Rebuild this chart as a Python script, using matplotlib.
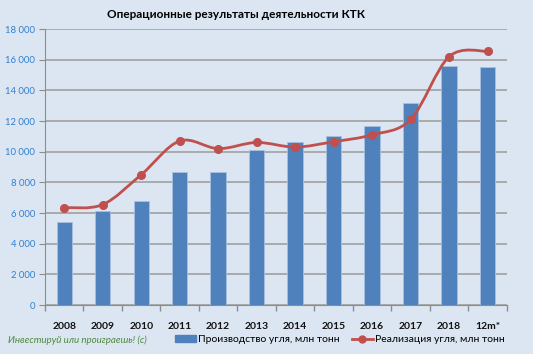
import numpy as np
import matplotlib.pyplot as plt
from matplotlib.path import Path
from matplotlib.patches import PathPatch
from matplotlib.lines import Line2D
from matplotlib.patches import Patch

years = ['2008', '2009', '2010', '2011', '2012', '2013', '2014', '2015',
         '2016', '2017', '2018', '12m*']
production = [5400, 6100, 6800, 8700, 8700, 10100, 10600, 11000, 11700,
              13200, 15600, 15500]
sales = [6350, 6550, 8500, 10700, 10200, 10600, 10300, 10650, 11100,
         12100, 16200, 16550]

bg = '#dce6f2'
bar_color = '#4f81bd'
line_color = '#c0504d'

plt.rcParams['font.family'] = ['Lato', 'DejaVu Sans']

fig = plt.figure(figsize=(5.33, 3.54), dpi=100, facecolor=bg)
ax = fig.add_axes([0.0844, 0.1384, 0.8666, 0.7796], facecolor=bg)

x = np.arange(len(years))
ax.bar(x, production, width=0.4, color=bar_color, edgecolor='#a9c1e0',
       linewidth=0.6, zorder=2)


# smooth line like excel: catmull-rom turned into bezier segments
def smooth_path(xs, ys):
    pts = np.column_stack([xs, ys]).astype(float)
    verts = [pts[0]]
    codes = [Path.MOVETO]
    n = len(pts)
    for i in range(n - 1):
        p0 = pts[i - 1] if i > 0 else pts[i]
        p1 = pts[i]
        p2 = pts[i + 1]
        p3 = pts[i + 2] if i + 2 < n else pts[i + 1]
        c1 = p1 + (p2 - p0) / 6.0
        c2 = p2 - (p3 - p1) / 6.0
        verts += [c1, c2, p2]
        codes += [Path.CURVE4] * 3
    return Path(verts, codes)


ax.add_patch(PathPatch(smooth_path(x, sales), facecolor='none',
                       edgecolor=line_color, linewidth=2, zorder=3))
ax.plot(x, sales, 'o', color=line_color, markersize=5.5, zorder=4)

ax.set_xlim(-0.5, len(years) - 0.5)
ax.set_ylim(0, 18000)
ax.set_yticks(range(0, 18001, 2000))
ax.set_yticklabels(['0' if v == 0 else '{:,}'.format(v).replace(',', ' ')
                    for v in range(0, 18001, 2000)])
ax.yaxis.grid(True, color='#a0a0a0', linewidth=1.2, zorder=0)
ax.set_axisbelow(True)

ax.set_xticks(x)
ax.set_xticklabels(years, fontsize=7.5, fontweight='bold', color='#111111')
ax.tick_params(axis='x', length=0, pad=12)
ax.set_xticks(np.arange(-0.5, len(years), 1), minor=True)
ax.tick_params(axis='x', which='minor', length=4, color='#8c8c8c', width=1)
ax.tick_params(axis='y', length=4, color='#8c8c8c', labelsize=6.8,
               labelcolor='#2f80d0', pad=3)

for s in ['top', 'right']:
    ax.spines[s].set_visible(False)
ax.spines['left'].set_color('#8c8c8c')
ax.spines['bottom'].set_color('#8c8c8c')

fig.text(0.443, 0.958, 'Операционные результаты деятельности КТК',
         ha='center', va='center', fontsize=8.5, fontweight='bold')

fig.text(0.015, 0.04, 'Инвестируй или проиграешь! (с)', ha='left',
         va='center', fontsize=7, style='italic', color='#4e8a3c')

handles = [Patch(facecolor=bar_color, edgecolor=bar_color),
           Line2D([], [], color=line_color, marker='o', linewidth=2,
                  markersize=5)]
fig.legend(handles, ['Производство угля, млн тонн',
                     'Реализация угля, млн тонн'],
           loc='center', bbox_to_anchor=(0.637, 0.04), ncol=2, frameon=False,
           fontsize=7.5, handlelength=2, handletextpad=0.2, columnspacing=1.2)

plt.savefig('out.png', dpi=100, facecolor=bg)
